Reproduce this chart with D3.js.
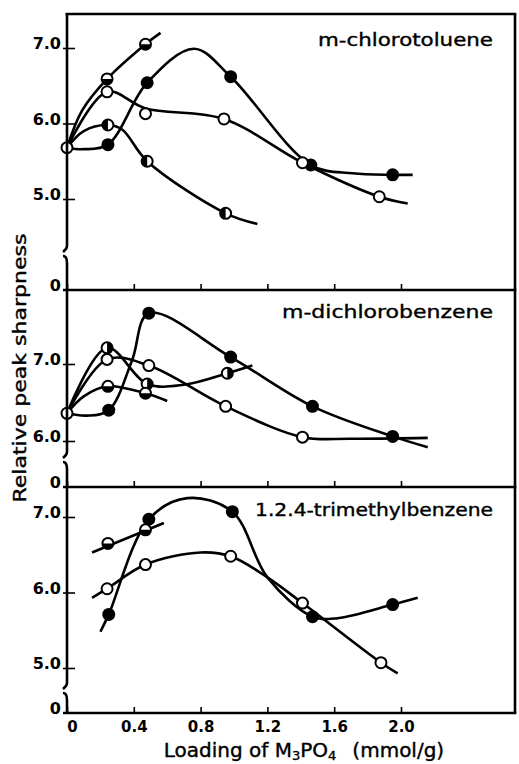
<!DOCTYPE html>
<html>
  <head>
    <meta charset="utf-8">
    <script src="https://d3js.org/d3.v7.min.js"></script>
    <title>Relative peak sharpness</title>
    <style type="text/css">
body {
  margin: 0;
  background-color: #fff;
}
svg {
  display: block;
  font-family: 'DejaVu Sans', sans-serif;
}
.curve {
  fill: none;
  stroke: #000;
  stroke-width: 2.6px;
}
.frame {
  stroke: #000;
  stroke-width: 2.6px;
  fill: none;
}
.tick line {
  stroke: #000;
  stroke-width: 1.6px;
}
.ticklabel {
  font-size: 16px;
  font-weight: bold;
}
.label {
  stroke: #000;
  stroke-width: 0.4px;
}
    </style>
  </head>
  <body>
<svg></svg>
<script type="text/javascript">
// x axis
const xTicks = [0, 0.4, 0.8, 1.2, 1.6, 2.0];
const xTickLabels = ["0", "0.4", "0.8", "1.2", "1.6", "2.0"];
const panelNames = ["m-chlorotoluene", "m-dichlorobenzene", "1.2.4-trimethylbenzene"];

// m-chlorotoluene
const chloroTicks = [5.0, 6.0, 7.0];
const chloroStart = [[0, 5.68]];
const chloroHalfBLine = [[0, 5.68], [0.09, 6.17], [0.24, 6.59], [0.47, 7.05], [0.56, 7.2]];
const chloroHalfBPts = [[0.24, 6.59], [0.47, 7.05]];
const chloroOpenLine = [[0, 5.68], [0.24, 6.42], [0.47, 6.2], [0.94, 6.06], [1.41, 5.48], [1.87, 5.03], [2.04, 4.94]];
const chloroOpenPts = [[0.24, 6.42], [0.47, 6.13], [0.94, 6.06], [1.41, 5.48], [1.87, 5.03]];
const chloroFilledLine = [[0, 5.68], [0.1, 5.66], [0.245, 5.72], [0.48, 6.54], [0.76, 6.99], [0.98, 6.62], [1.46, 5.45], [1.71, 5.34], [1.95, 5.32], [2.07, 5.32]];
const chloroFilledPts = [[0.245, 5.72], [0.48, 6.54], [0.98, 6.62], [1.46, 5.45], [1.95, 5.32]];
const chloroHalfLLine = [[0, 5.68], [0.1, 5.9], [0.245, 5.98], [0.33, 5.92], [0.48, 5.5], [0.95, 4.81], [1.14, 4.67]];
const chloroHalfLPts = [[0.245, 5.98], [0.48, 5.5], [0.95, 4.81]];

// m-dichlorobenzene
const dichloroTicks = [6.0, 7.0];
const dichloroStart = [[0, 6.36]];
const dichloroFilledLine = [[0, 6.36], [0.12, 6.33], [0.25, 6.4], [0.39, 7.05], [0.49, 7.66], [0.98, 7.09], [1.47, 6.45], [1.95, 6.06], [2.16, 5.92]];
const dichloroFilledPts = [[0.25, 6.4], [0.49, 7.66], [0.98, 7.09], [1.47, 6.45], [1.95, 6.06]];
const dichloroOpenLine = [[0, 6.36], [0.24, 7.06], [0.49, 6.98], [0.95, 6.45], [1.41, 6.05], [1.7, 6.03], [2.16, 6.04]];
const dichloroOpenPts = [[0.24, 7.06], [0.49, 6.98], [0.95, 6.45], [1.41, 6.05]];
const dichloroHalfRLine = [[0, 6.36], [0.24, 7.21], [0.48, 6.74], [0.7, 6.73], [0.96, 6.88], [1.11, 6.98]];
const dichloroHalfRPts = [[0.24, 7.21], [0.48, 6.74], [0.96, 6.88]];
const dichloroHalfBLine = [[0, 6.36], [0.1, 6.58], [0.245, 6.71], [0.47, 6.62], [0.6, 6.52]];
const dichloroHalfBPts = [[0.245, 6.71], [0.47, 6.62]];

// 1.2.4-trimethylbenzene
const trimethylTicks = [5.0, 6.0, 7.0];
const trimethylHalfBLine = [[0.15, 6.53], [0.58, 6.92]];
const trimethylHalfBPts = [[0.245, 6.65], [0.47, 6.83]];
const trimethylOpenLine = [[0.15, 5.93], [0.24, 6.05], [0.47, 6.37], [0.8, 6.53], [0.98, 6.48], [1.2, 6.2], [1.41, 5.86], [1.88, 5.07], [1.98, 4.93]];
const trimethylOpenPts = [[0.24, 6.05], [0.47, 6.37], [0.98, 6.48], [1.41, 5.86], [1.88, 5.07]];
const trimethylFilledLine = [[0.2, 5.48], [0.25, 5.71], [0.49, 6.97], [0.72, 7.25], [0.99, 7.07], [1.2, 6.2], [1.47, 5.68], [1.62, 5.66], [1.95, 5.84], [2.1, 5.93]];
const trimethylFilledPts = [[0.25, 5.71], [0.49, 6.97], [0.99, 7.07], [1.47, 5.68], [1.95, 5.84]];

const width = 519, height = 764;
const axisX = 67, edgeX = 515, frameTop = 14;

const svg = d3.select("svg").attr("width", width).attr("height", height);
svg.append("rect").attr("width", width).attr("height", height).attr("fill", "#fff");

const x = d3.scaleLinear().domain([0, 2]).range([67, 401]);

const panels = [
  {name: panelNames[0], y0: frameTop, y1: 290, brk: 252, titleY: 46, titleX: 318, titleW: 175,
   y: d3.scaleLinear().domain([5, 7]).range([199, 48]), ticks: chloroTicks,
   lines: [chloroHalfBLine, chloroOpenLine, chloroFilledLine, chloroHalfLLine],
   marks: [[chloroHalfBPts, "bottom"], [chloroFilledPts, "full"], [chloroHalfLPts, "left"], [chloroOpenPts, "none"], [chloroStart, "none"]]},
  {name: panelNames[1], y0: 290, y1: 487, brk: 458, titleY: 318, titleX: 282, titleW: 211,
   y: d3.scaleLinear().domain([6, 7]).range([441, 364]), ticks: dichloroTicks,
   lines: [dichloroFilledLine, dichloroOpenLine, dichloroHalfRLine, dichloroHalfBLine],
   marks: [[dichloroFilledPts, "full"], [dichloroOpenPts, "none"], [dichloroHalfRPts, "right"], [dichloroHalfBPts, "bottom"], [dichloroStart, "none"]]},
  {name: panelNames[2], y0: 487, y1: 713, brk: 689, titleY: 516, titleX: 255, titleW: 238,
   y: d3.scaleLinear().domain([5, 7]).range([668, 517]), ticks: trimethylTicks,
   lines: [trimethylHalfBLine, trimethylOpenLine, trimethylFilledLine],
   marks: [[trimethylOpenPts, "none"], [trimethylFilledPts, "full"], [trimethylHalfBPts, "bottom"]]}
];

const r = 5.5;
function drawMark(g, cx, cy, fill) {
  g.append("circle").attr("cx", cx).attr("cy", cy).attr("r", r)
    .attr("fill", fill === "full" ? "#000" : "#fff")
    .attr("stroke", "#000").attr("stroke-width", 2);
  let d = null;
  if (fill === "bottom") d = `M${cx - r},${cy} A${r},${r} 0 0 0 ${cx + r},${cy} Z`;
  if (fill === "right") d = `M${cx},${cy - r} A${r},${r} 0 0 1 ${cx},${cy + r} Z`;
  if (fill === "left") d = `M${cx},${cy - r} A${r},${r} 0 0 0 ${cx},${cy + r} Z`;
  if (d) g.append("path").attr("d", d).attr("fill", "#000");
}

panels.forEach((p, i) => {
  const g = svg.append("g");
  const line = d3.line()
    .x(d => x(d[0]))
    .y(d => p.y(d[1]))
    .curve(d3.curveCatmullRom.alpha(0.5));

  p.lines.forEach(l => {
    g.append("path").attr("class", "curve").attr("d", line(l));
  });
  p.marks.forEach(([pts, fill]) => {
    pts.forEach(d => drawMark(g, x(d[0]), p.y(d[1]), fill));
  });

  // y ticks, pointing into the panel
  const yAxis = d3.axisLeft(p.y).tickValues(p.ticks).tickSizeInner(-8).tickSizeOuter(0)
    .tickPadding(8).tickFormat(d3.format(".1f"));
  const ya = svg.append("g").attr("transform", `translate(${axisX},0)`).call(yAxis);
  ya.select(".domain").remove();
  ya.attr("font-family", null).attr("font-size", null);
  ya.selectAll(".tick line").attr("x1", -4);
  ya.selectAll(".tick text").attr("class", "ticklabel").attr("dy", "0.05em").attr("x", -6);

  // "0" at the foot of each panel
  svg.append("text").attr("class", "ticklabel").attr("x", 61).attr("y", p.y1 + 1)
    .attr("text-anchor", "end").text("0");

  // broken left axis
  svg.append("path").attr("class", "frame").attr("stroke-width", 3)
    .attr("d", `M${axisX},${p.y0} L${axisX},${p.brk - 6} q0,3 -4,6`);
  svg.append("path").attr("class", "frame").attr("stroke-width", 3)
    .attr("d", `M${axisX - 4},${p.brk + 4} q4,0 4,7 L${axisX},${p.y1}`);

  // x ticks on the bottom edge of each panel, pointing up
  const xAxis = d3.axisBottom(x).tickValues(xTicks).tickSizeInner(-6).tickSizeOuter(0)
    .tickPadding(8).tickFormat((d, j) => i === 2 ? xTickLabels[j] : "");
  const xa = svg.append("g").attr("transform", `translate(0,${p.y1})`).call(xAxis);
  xa.select(".domain").remove();
  xa.attr("font-family", null).attr("font-size", null);
  xa.selectAll(".tick text").attr("class", "ticklabel").style("font-size", "15px");
  xa.selectAll(".tick text").filter(d => d === 0).attr("dx", 5);

  // panel boundary lines
  if (i === 0) {
    svg.append("line").attr("class", "frame")
      .attr("x1", axisX - 1.5).attr("x2", edgeX + 1.3).attr("y1", p.y0).attr("y2", p.y0);
  }
  svg.append("line").attr("class", "frame")
    .attr("x1", axisX - 4).attr("x2", edgeX + 1.3).attr("y1", p.y1).attr("y2", p.y1);

  svg.append("text").attr("class", "label").attr("x", p.titleX).attr("y", p.titleY)
    .attr("font-size", 18).attr("textLength", p.titleW).attr("lengthAdjust", "spacingAndGlyphs")
    .text(p.name);
});

// right edge
svg.append("line").attr("class", "frame")
  .attr("x1", edgeX).attr("x2", edgeX).attr("y1", frameTop).attr("y2", 713);

// axis titles
const xt = svg.append("text").attr("class", "label").attr("x", 304).attr("y", 757)
  .attr("text-anchor", "middle").attr("font-size", 20);
xt.append("tspan").text("Loading of M");
xt.append("tspan").attr("font-size", 13).attr("dy", 3).text("3");
xt.append("tspan").attr("dy", -3).text("PO");
xt.append("tspan").attr("font-size", 13).attr("dy", 3).text("4");
xt.append("tspan").attr("dy", -3).attr("dx", 16).text("(mmol/g)");

svg.append("text").attr("class", "label").attr("transform", "translate(26,368) rotate(-90)")
  .attr("text-anchor", "middle").attr("font-size", 18)
  .attr("textLength", 269).attr("lengthAdjust", "spacingAndGlyphs")
  .text("Relative peak sharpness");
</script>
  </body>
</html>
